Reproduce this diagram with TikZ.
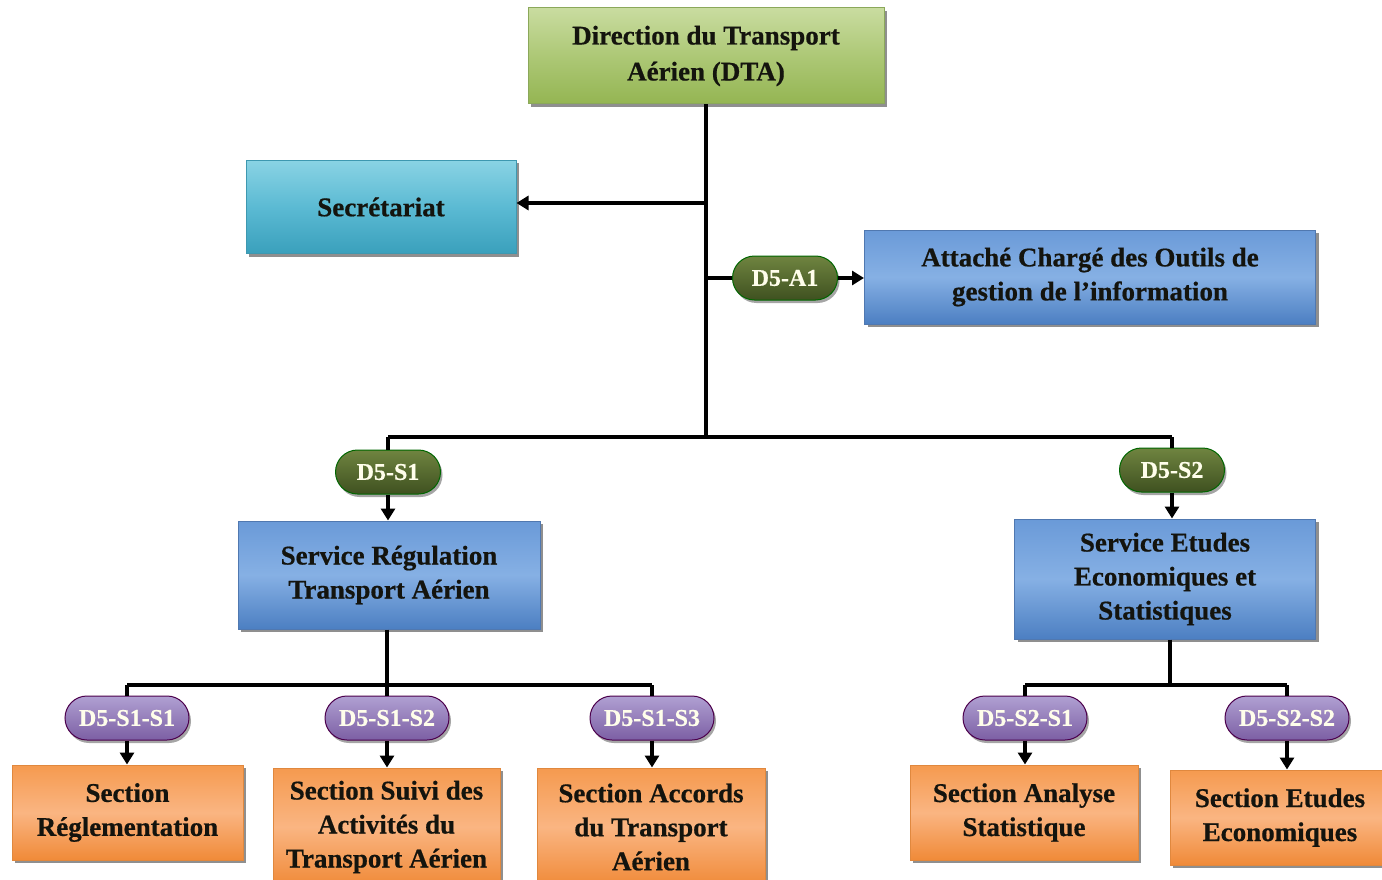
\documentclass[tikz,border=0pt]{standalone}
\usepackage{fontspec}
\setmainfont{Liberation Serif}[BoldFeatures={FakeBold=0.6}]
\usetikzlibrary{arrows.meta,shadows,shapes.misc}
\definecolor{txt}{HTML}{14140E}
\definecolor{gtop}{HTML}{C9DCA0}\definecolor{gmid}{HTML}{ADC876}\definecolor{gbot}{HTML}{94B552}
\definecolor{ttop}{HTML}{8AD3E4}\definecolor{tmid}{HTML}{5BBAD3}\definecolor{tbot}{HTML}{3AA0BC}
\definecolor{btop}{HTML}{6A9AD8}\definecolor{bmid}{HTML}{86B0E4}\definecolor{bbot}{HTML}{4C7FC2}
\definecolor{otop}{HTML}{F59A4F}\definecolor{omid}{HTML}{FAB582}\definecolor{obot}{HTML}{F08A38}
\definecolor{bgtop}{HTML}{6F8440}\definecolor{bgbot}{HTML}{3F5120}
\definecolor{pptop}{HTML}{B0A0D2}\definecolor{ppbot}{HTML}{7C5FA4}
\definecolor{gline}{HTML}{8BA85A}\definecolor{tline}{HTML}{3E98B0}
\definecolor{bline}{HTML}{5078B0}\definecolor{oline}{HTML}{E0883E}
\tikzset{
  box/.style={draw=#1, line width=1pt, inner sep=0pt, align=center,
    font=\fontsize{27}{34}\selectfont\bfseries, text=txt,
    drop shadow={shadow xshift=3pt, shadow yshift=-3pt, fill=black!55, opacity=0.8}},
  gbox/.style={box=gline, top color=gtop, bottom color=gbot, middle color=gmid},
  tbox/.style={box=tline, top color=ttop, bottom color=tbot, middle color=tmid},
  bbox/.style={box=bline, top color=btop, bottom color=bbot, middle color=bmid},
  obox/.style={box=oline, top color=otop, bottom color=obot, middle color=omid},
  badge/.style={rounded rectangle, draw=#1, line width=1pt, inner sep=0pt, minimum height=44pt,
    font=\fontsize{24}{26}\selectfont\bfseries, text=white!92!yellow,
    drop shadow={shadow xshift=2pt, shadow yshift=-3pt, fill=black!50, opacity=0.7}},
  gbadge/.style={badge=black!60!green, top color=bgtop, bottom color=bgbot, minimum width=105pt},
  pbadge/.style={badge=violet!60!black, top color=pptop, bottom color=ppbot, minimum width=124pt},
  conn/.style={line width=4pt, black},
  arr/.style={conn, -{Triangle[length=12pt,width=14pt]}},
}
\begin{document}
\begin{tikzpicture}[x=1pt,y=-1pt]
\useasboundingbox (0,0) rectangle (1382,880);
\fill[white] (0,0) rectangle (1382,880);
\clip (0,0) rectangle (1382,880);
% boxes
\node[gbox, minimum width=356pt, minimum height=96pt] (dta) at (706,56) {Direction du Transport\\[2pt]Aérien (DTA)};
\node[tbox, minimum width=270pt, minimum height=93pt] (sec) at (381,207) {Secrétariat};
\node[bbox, minimum width=451pt, minimum height=94pt] (att) at (1090,277) {Attaché Chargé des Outils de\\gestion de l’information};
\node[gbadge] (a1) at (785,278) {D5-A1};
\node[gbadge] (s1b) at (388,472) {D5-S1};
\node[gbadge] (s2b) at (1172,470) {D5-S2};
\node[bbox, minimum width=302pt, minimum height=108pt] (srt) at (389,575) {Service Régulation\\Transport Aérien};
\node[bbox, minimum width=301pt, minimum height=120pt] (ses) at (1165,579) {Service Etudes\\Economiques et\\Statistiques};
\node[pbadge] (b11) at (127,718) {D5-S1-S1};
\node[pbadge] (b12) at (387,718) {D5-S1-S2};
\node[pbadge] (b13) at (652,718) {D5-S1-S3};
\node[pbadge] (b21) at (1025,718) {D5-S2-S1};
\node[pbadge] (b22) at (1287,718) {D5-S2-S2};
\node[obox, minimum width=231pt, minimum height=95pt] (sr) at (127.5,812.5) {Section\\Réglementation};
\node[obox, minimum width=227pt, minimum height=118pt] (ss) at (386.5,827) {Section Suivi des\\Activités du\\Transport Aérien};
\node[obox, minimum width=228pt, minimum height=118pt] (sa) at (651,827) {Section Accords\\du Transport\\Aérien};
\node[obox, minimum width=228pt, minimum height=95pt] (san) at (1024,812.5) {Section Analyse\\Statistique};
\node[obox, minimum width=220pt, minimum height=95pt] (see) at (1280,817.5) {Section Etudes\\Economiques};
% junctions
\coordinate (js) at (706,203);
\coordinate (ja) at (706,278);
\coordinate (j1) at (706,437);
\coordinate (bl) at (388,437);
\coordinate (br) at (1172,437);
\coordinate (k1) at (387,685);
\coordinate (k1l) at (127,685);
\coordinate (k1r) at (652,685);
\coordinate (k2) at (1170,685);
\coordinate (k2l) at (1025,685);
\coordinate (k2r) at (1287,685);
% connectors
\draw[conn] (dta.south) -- (j1);
\draw[arr] (js) -- (sec.east |- js);
\draw[conn] (ja) -- (a1.west);
\draw[arr] (a1.east) -- (att.west |- a1.east);
\draw[conn] (bl) -- (br);
\draw[conn] (bl) -- (s1b.north);
\draw[conn] (br) -- (s2b.north);
\draw[arr] (s1b.south) -- (s1b.south |- srt.north);
\draw[arr] (s2b.south) -- (s2b.south |- ses.north);
\draw[conn] (srt.south -| k1) -- (k1);
\draw[conn] (k1l) -- (k1r);
\draw[conn] (k1l) -- (b11.north);
\draw[conn] (k1) -- (b12.north);
\draw[conn] (k1r) -- (b13.north);
\draw[conn] (ses.south -| k2) -- (k2);
\draw[conn] (k2l) -- (k2r);
\draw[conn] (k2l) -- (b21.north);
\draw[conn] (k2r) -- (b22.north);
\draw[arr] (b11.south) -- (b11.south |- sr.north);
\draw[arr] (b12.south) -- (b12.south |- ss.north);
\draw[arr] (b13.south) -- (b13.south |- sa.north);
\draw[arr] (b21.south) -- (b21.south |- san.north);
\draw[arr] (b22.south) -- (b22.south |- see.north);
\end{tikzpicture}
\end{document}
